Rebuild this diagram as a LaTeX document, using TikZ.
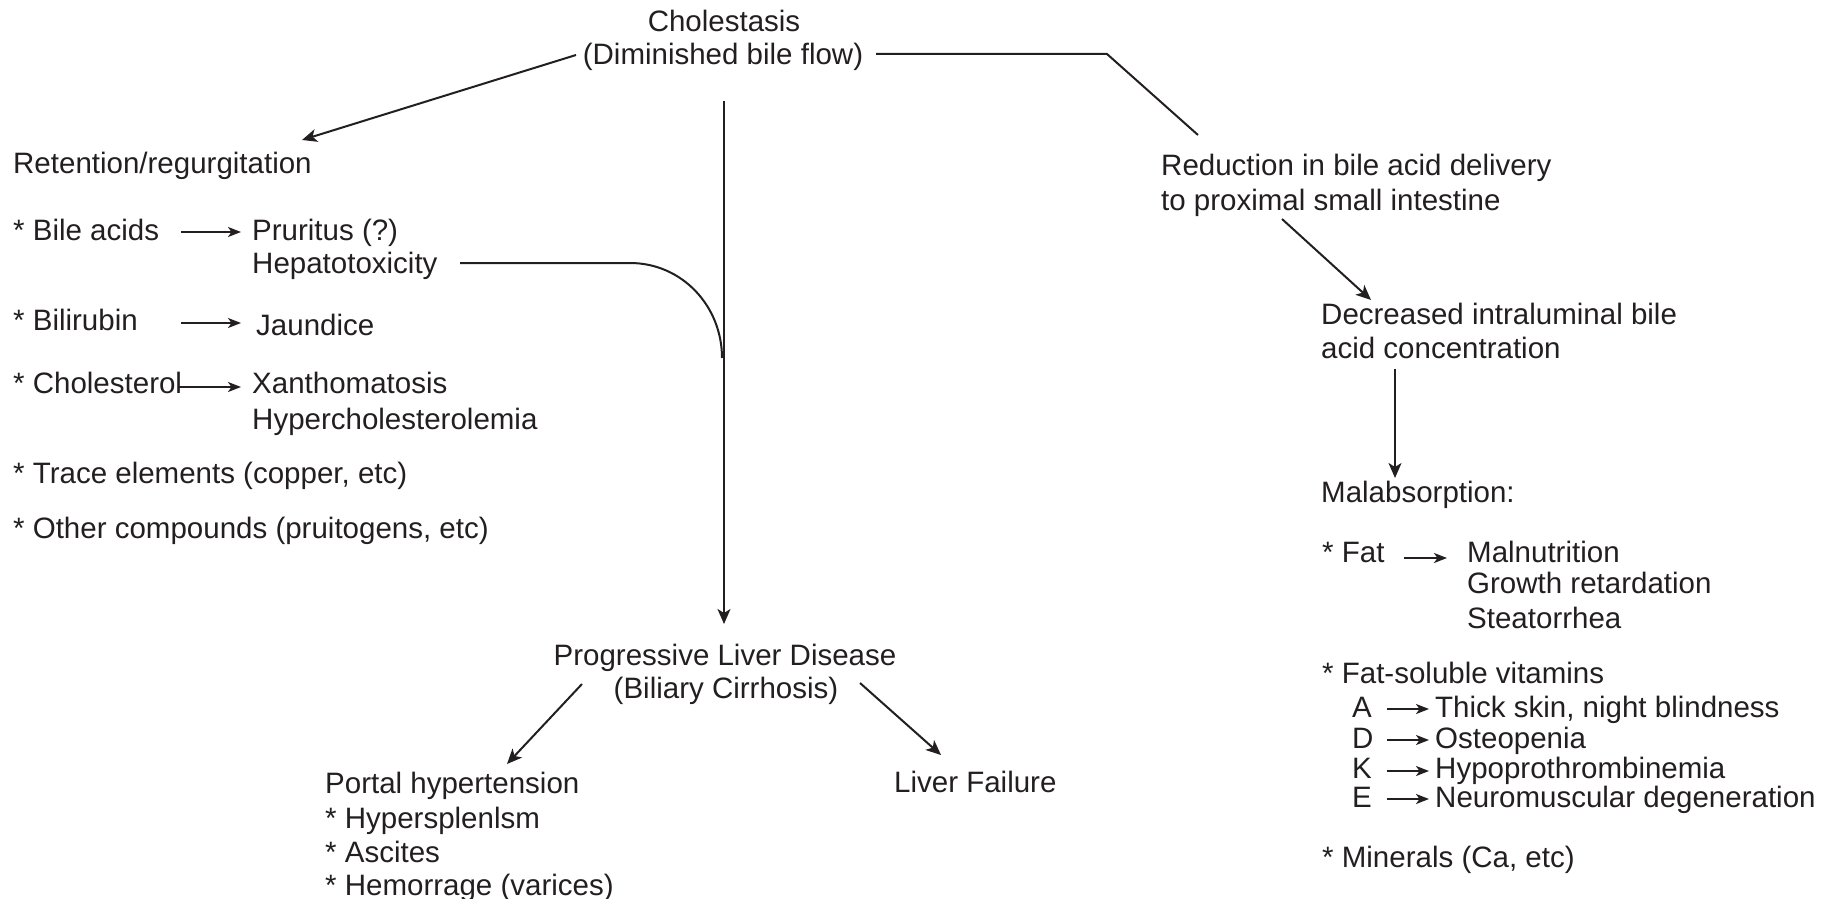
\documentclass[tikz,border=0pt]{standalone}
\usepackage{fontspec}
\setmainfont{Liberation Sans}
\usetikzlibrary{arrows.meta}
\definecolor{ink}{RGB}{35,31,32}
\begin{document}
\begin{tikzpicture}[x=1pt,y=-1pt,
  every node/.style={inner sep=0pt, text=ink, font=\fontsize{29.5}{35}\selectfont},
  txt/.style={anchor=base west},
  ctr/.style={anchor=base},
  ln/.style={draw=ink, line width=2pt},
  arr/.style={ln, -{Stealth[length=15pt,width=13pt,inset=4pt]}},
  sarr/.style={ln, -{Stealth[length=13pt,width=10pt,inset=3.5pt]}}]
\useasboundingbox (0,0) rectangle (1831,899);

% top
\node[ctr] (chol) at (724,32) {Cholestasis};
\node[ctr] (dim) at (723,65) {(Diminished bile flow)};

% left column
\node[txt] (ret) at (13,173) {Retention/regurgitation};
\node[txt] (bile) at (13,240) {* Bile acids};
\node[txt] (prur) at (252,240) {Pruritus (?)};
\node[txt] (hepa) at (252,273) {Hepatotoxicity};
\node[txt] (bili) at (13,330) {* Bilirubin};
\node[txt] (jaun) at (256,335) {Jaundice};
\node[txt] (chl) at (13,393) {* Cholesterol};
\node[txt] (xan) at (252,393) {Xanthomatosis};
\node[txt] (hyp) at (252,429) {Hypercholesterolemia};
\node[txt] (trace) at (13,483) {* Trace elements (copper, etc)};
\node[txt] (other) at (13,538) {* Other compounds (pruitogens, etc)};

% bottom
\node[ctr] (prog) at (725,665) {Progressive Liver Disease};
\node[ctr] (bil) at (726,698) {(Biliary Cirrhosis)};
\node[txt] (portal) at (325,793) {Portal hypertension};
\node[txt] (hs) at (325,828) {* Hypersplenlsm};
\node[txt] (asc) at (325,862) {* Ascites};
\node[txt] (hem) at (325,895) {* Hemorrage (varices)};
\node[txt] (lf) at (894,792) {Liver Failure};

% right column
\node[txt] (red1) at (1161,175) {Reduction in bile acid delivery};
\node[txt] (red2) at (1161,210) {to proximal small intestine};
\node[txt] (dec1) at (1321,324) {Decreased intraluminal bile};
\node[txt] (dec2) at (1321,358) {acid concentration};
\node[txt] (mal) at (1321,502) {Malabsorption:};
\node[txt] (fat) at (1322,562) {* Fat};
\node[txt] (maln) at (1467,562) {Malnutrition};
\node[txt] (grow) at (1467,593) {Growth retardation};
\node[txt] (stea) at (1467,628) {Steatorrhea};
\node[txt] (fsv) at (1322,683) {* Fat-soluble vitamins};
\node[txt] (va) at (1352,717) {A};
\node[txt] (vat) at (1435,717) {Thick skin, night blindness};
\node[txt] (vd) at (1352,748) {D};
\node[txt] (vdt) at (1435,748) {Osteopenia};
\node[txt] (vk) at (1352,778) {K};
\node[txt] (vkt) at (1435,778) {Hypoprothrombinemia};
\node[txt] (ve) at (1352,807) {E};
\node[txt] (vet) at (1435,807) {Neuromuscular degeneration};
\node[txt] (min) at (1322,867) {* Minerals (Ca, etc)};

% connector end points
\coordinate (c1s) at (576,55);   \coordinate (c1e) at (302,140);
\coordinate (vs) at (724,101);   \coordinate (ve2) at (724,624);
\coordinate (hs1) at (460,263);  \coordinate (hs2) at (630,263);
\coordinate (hs3) at (722,358);
\coordinate (r1) at (876,54);    \coordinate (r2) at (1107,54);
\coordinate (r3) at (1198,135);
\coordinate (d1s) at (1282,219); \coordinate (d1e) at (1371,300);
\coordinate (d2s) at (1395,369); \coordinate (d2e) at (1395,478);
\coordinate (p1s) at (582,684);  \coordinate (p1e) at (507,764);
\coordinate (p2s) at (860,683);  \coordinate (p2e) at (941,755);
\coordinate (i1s) at (181,232);  \coordinate (i1e) at (241,232);
\coordinate (i2s) at (181,323);  \coordinate (i2e) at (241,323);
\coordinate (i3s) at (179,387);  \coordinate (i3e) at (241,387);
\coordinate (i4s) at (1404,558); \coordinate (i4e) at (1447,558);
\coordinate (iAs) at (1387,709); \coordinate (iAe) at (1429,709);
\coordinate (iDs) at (1387,740); \coordinate (iDe) at (1429,740);
\coordinate (iKs) at (1387,771); \coordinate (iKe) at (1429,771);
\coordinate (iEs) at (1387,799); \coordinate (iEe) at (1429,799);

% connectors
\draw[arr] (c1s) -- (c1e);
\draw[arr, line width=1.8pt] (vs) -- (ve2);
\draw[ln] (hs1) -- (hs2) .. controls (682,263) and (722,306) .. (hs3);
\draw[ln] (r1) -- (r2) -- (r3);
\draw[arr] (d1s) -- (d1e);
\draw[arr, line width=1.8pt] (d2s) -- (d2e);
\draw[arr] (p1s) -- (p1e);
\draw[arr] (p2s) -- (p2e);
\draw[sarr] (i1s) -- (i1e);
\draw[sarr] (i2s) -- (i2e);
\draw[sarr] (i3s) -- (i3e);
\draw[sarr] (i4s) -- (i4e);
\draw[sarr] (iAs) -- (iAe);
\draw[sarr] (iDs) -- (iDe);
\draw[sarr] (iKs) -- (iKe);
\draw[sarr] (iEs) -- (iEe);
\end{tikzpicture}
\end{document}
